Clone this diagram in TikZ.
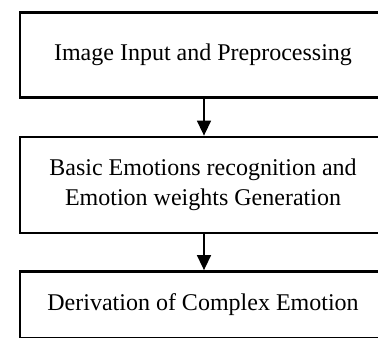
\documentclass[tikz,border=0pt]{standalone}
\usepackage{fontspec}
\setmainfont{Liberation Serif}
\usetikzlibrary{arrows.meta}
\begin{document}
\begin{tikzpicture}[x=1bp,y=-1bp,
  stagebox/.style={draw=black, line width=2.8bp, rectangle, minimum width=366bp,
    align=center, inner sep=0pt, font=\fontsize{24bp}{29.5bp}\selectfont},
  flow/.style={draw=black, line width=1.5bp, -{Triangle[length=15bp,width=14bp]}}]
  \useasboundingbox (0,0) rectangle (378,338);
  \clip (0,0) rectangle (378,338);
  \node[stagebox, minimum height=85bp] (input) at (203,55) {Image Input and Preprocessing};
  \node[stagebox, minimum height=96bp] (basic) at (203,185) {Basic Emotions recognition and\\Emotion weights Generation};
  \node[stagebox, minimum height=67bp] (complex) at (203,305) {Derivation of Complex Emotion};
  \draw[flow] ([xshift=1bp]input.south) -- ([xshift=1bp]basic.north);
  \draw[flow] ([xshift=1bp]basic.south) -- ([xshift=1bp]complex.north);
\end{tikzpicture}
\end{document}
